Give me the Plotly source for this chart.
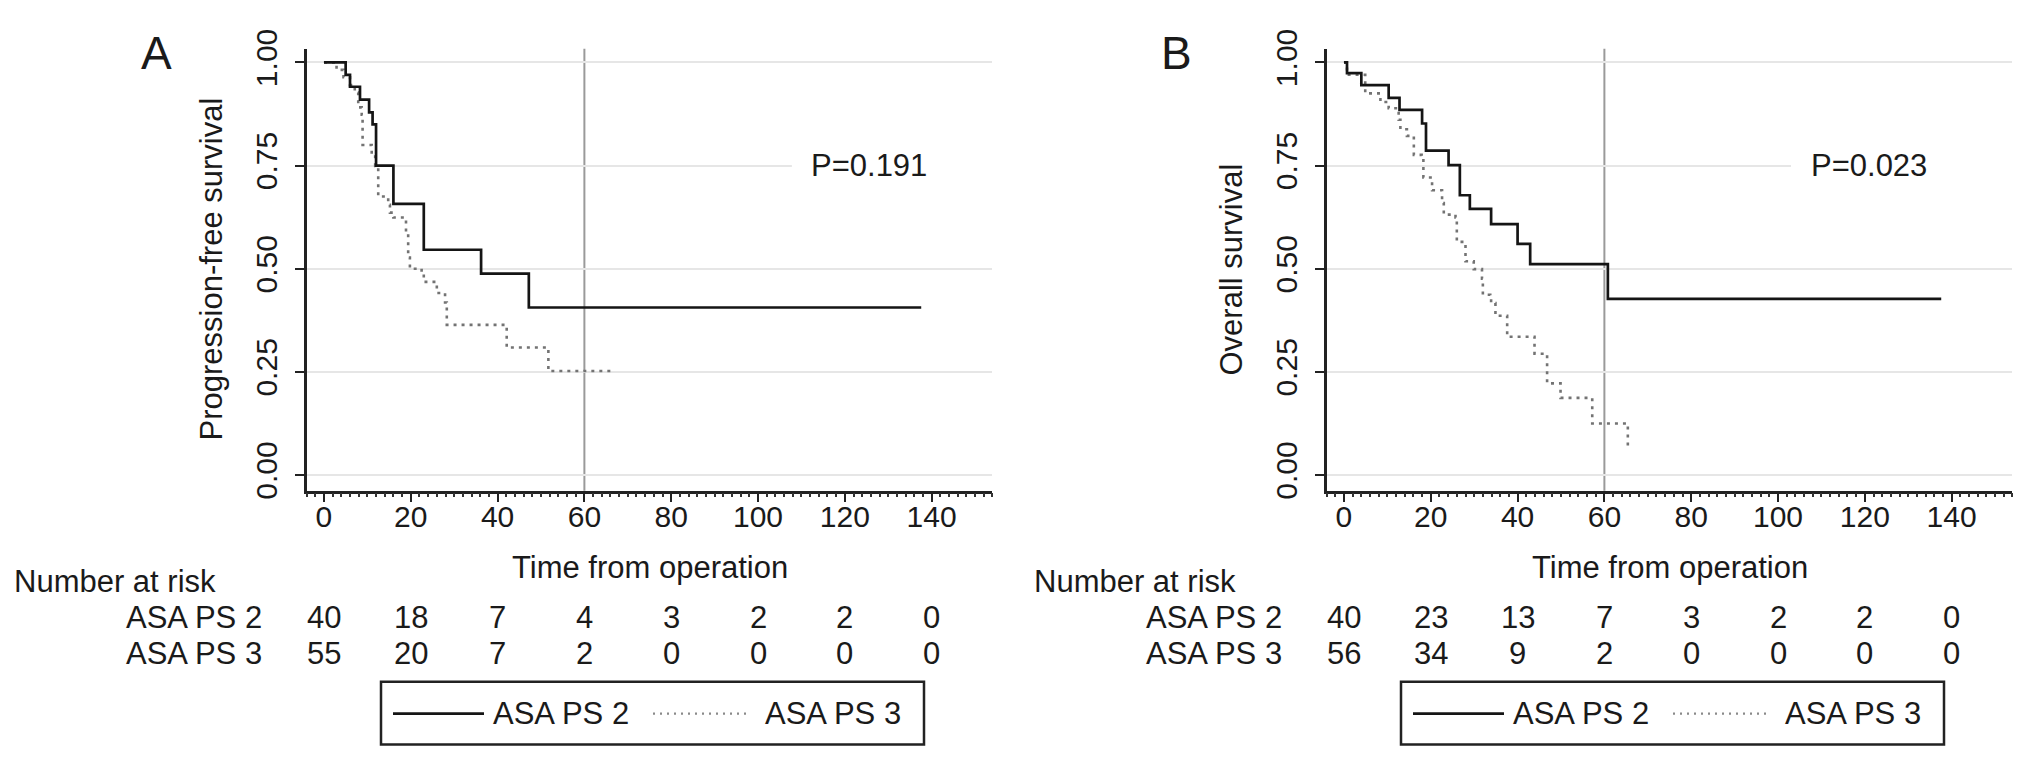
import plotly.graph_objects as go

W, H = 2032, 764

# ---- data ----
# panel A: progression-free survival (Kaplan-Meier steps)
pfs_t_ps2 = [0, 5.0, 6.0, 8.3, 10.4, 11.2, 12.0, 16.0, 23.0, 36.2, 47.2, 137.6]
pfs_s_ps2 = [1.0, 0.970, 0.941, 0.910, 0.879, 0.850, 0.750, 0.657, 0.546, 0.488, 0.406, 0.406]
pfs_t_ps3 = [0, 2.9, 4.5, 6.0, 7.1, 7.9, 8.7, 8.9, 11.0, 11.8, 12.5, 14.8, 15.2, 16.0,
             18.9, 19.4, 19.8, 22.5, 23.0, 26.0, 27.9, 28.3, 42.1, 51.7, 66.3]
pfs_s_ps3 = [1.0, 0.982, 0.964, 0.945, 0.927, 0.891, 0.873, 0.800, 0.782, 0.749, 0.675, 0.655,
             0.636, 0.624, 0.589, 0.527, 0.500, 0.491, 0.468, 0.441, 0.418, 0.364, 0.309, 0.252, 0.252]

# panel B: overall survival
os_t_ps2 = [0, 0.7, 4.0, 10.3, 12.8, 18.0, 18.9, 24.1, 26.7, 29.0, 33.9, 40.0, 42.9, 60.8, 137.6]
os_s_ps2 = [1.0, 0.974, 0.945, 0.914, 0.885, 0.852, 0.786, 0.751, 0.678, 0.645, 0.608, 0.560,
            0.511, 0.427, 0.427]
os_t_ps3 = [0, 0.7, 4.9, 8.4, 10.3, 12.6, 13.0, 14.5, 16.1, 17.9, 18.3, 20.3, 22.6, 23.0, 25.7,
            26.0, 28.0, 29.9, 31.8, 32.0, 33.7, 33.9, 34.9, 37.6, 43.9, 46.8, 49.9, 57.2, 65.4]
os_s_ps3 = [1.0, 0.970, 0.925, 0.904, 0.889, 0.861, 0.838, 0.822, 0.776, 0.768, 0.721, 0.690,
            0.659, 0.631, 0.624, 0.565, 0.518, 0.499, 0.476, 0.437, 0.433, 0.417, 0.386, 0.335,
            0.294, 0.222, 0.187, 0.125, 0.062]

risk_times = [0, 20, 40, 60, 80, 100, 120, 140]
pfs_risk_ps2 = [40, 18, 7, 4, 3, 2, 2, 0]
pfs_risk_ps3 = [55, 20, 7, 2, 0, 0, 0, 0]
os_risk_ps2 = [40, 23, 13, 7, 3, 2, 2, 0]
os_risk_ps3 = [56, 34, 9, 2, 0, 0, 0, 0]

group_names = ["ASA PS 2", "ASA PS 3"]
y_ticks = [0, 0.25, 0.5, 0.75, 1.0]
y_tick_text = ["0.00", "0.25", "0.50", "0.75", "1.00"]
x_ticks = [0, 20, 40, 60, 80, 100, 120, 140]

FONT = "Liberation Sans, Arial, Helvetica, sans-serif"
SOLID = dict(color="#151515", width=2.7)
DOTTED = dict(color="#737373", width=2.6, dash="3px,5px")


def fx(p):
    return p / W


def fy(p):
    return 1 - p / H


def label(text, x, y, xref="paper", yref="paper", size=31, xanchor="center", **kw):
    return dict(text=text, x=x, y=y, xref=xref, yref=yref, showarrow=False,
                xanchor=xanchor, yanchor="middle", font=dict(size=size), **kw)


panels = [
    dict(ax="", label="A", ytitle="Progression-free survival", p="P=0.191", px=125.5, mask0=107.8,
         t2=pfs_t_ps2, s2=pfs_s_ps2, t3=pfs_t_ps3, s3=pfs_s_ps3, r2=pfs_risk_ps2, r3=pfs_risk_ps3,
         off=0),
    dict(ax="2", label="B", ytitle="Overall survival", p="P=0.023", px=121, mask0=103,
         t2=os_t_ps2, s2=os_s_ps2, t3=os_t_ps3, s3=os_s_ps3, r2=os_risk_ps2, r3=os_risk_ps3,
         off=1020),
]

fig = go.Figure()
annotations = []
shapes = []
layout = dict(
    width=W, height=H, margin=dict(l=0, r=0, t=0, b=0),
    paper_bgcolor="white", plot_bgcolor="white", showlegend=False,
    font=dict(family=FONT, size=30, color="#1a1a1a"),
)

for pn in panels:
    ax = pn["ax"]
    off = pn["off"]
    xref = "x" + ax
    yref = "y" + ax
    fig.add_trace(go.Scatter(x=pn["t3"], y=pn["s3"], mode="lines", line=dict(shape="hv", **DOTTED),
                             name=group_names[1], xaxis=xref, yaxis=yref))
    fig.add_trace(go.Scatter(x=pn["t2"], y=pn["s2"], mode="lines", line=dict(shape="hv", **SOLID),
                             name=group_names[0], xaxis=xref, yaxis=yref))

    layout["xaxis" + ax] = dict(
        domain=[fx(306.6 + off), fx(992.4 + off)], range=[-4, 154], anchor=yref,
        tickvals=x_ticks, ticks="outside", ticklen=9, tickwidth=2, tickcolor="#222",
        showline=True, linecolor="#222", linewidth=2.5, showgrid=False, zeroline=False,
        tickfont=dict(size=30), ticklabelstandoff=-11,
        minor=dict(dtick=2, tick0=0, ticks="outside", ticklen=4, tickwidth=1.5,
                   tickcolor="#333", showgrid=False),
    )
    layout["yaxis" + ax] = dict(
        domain=[fy(488.6), fy(29.9)], range=[-0.038, 1.033], anchor=xref,
        tickvals=y_ticks, ticktext=y_tick_text, tickangle=-90,
        ticks="outside", ticklen=9, tickwidth=2, tickcolor="#222",
        showline=True, linecolor="#222", linewidth=2.5,
        showgrid=True, gridcolor="#e6e6e6", gridwidth=2, zeroline=False,
        tickfont=dict(size=30), ticklabelstandoff=6,
    )

    # reference line at 60 months
    shapes.append(dict(type="line", xref=xref, yref=yref + " domain", x0=60, x1=60, y0=0, y1=1,
                       line=dict(color="#9a9a9a", width=2), layer="below"))
    # white box behind the p-value
    shapes.append(dict(type="rect", xref=xref, yref=yref, x0=pn["mask0"], x1=154,
                       y0=0.72, y1=0.78, fillcolor="white", line=dict(width=0), layer="above"))
    annotations.append(label(pn["p"], pn["px"], 0.75, xref=xref, yref=yref))

    annotations.append(label(pn["label"], fx(156 + off), fy(34), size=46))
    annotations.append(label(pn["ytitle"], fx(212 + off), fy(259), textangle=-90))
    annotations.append(label("Time from operation", 75, fy(568), xref=xref))

    # number at risk table
    annotations.append(label("Number at risk", fx(12 + off), fy(583), xanchor="left"))
    for name, row, ypx in [(group_names[0], pn["r2"], 620), (group_names[1], pn["r3"], 658)]:
        annotations.append(label(name, fx(264 + off), fy(ypx), xanchor="right"))
        for t, n in zip(risk_times, row):
            annotations.append(label(str(n), t, fy(ypx), xref=xref))

    # legend box
    shapes.append(dict(type="rect", xref="paper", yref="paper", x0=fx(381 + off), x1=fx(924 + off),
                       y0=fy(752), y1=fy(687), line=dict(color="#222", width=2.5)))
    shapes.append(dict(type="line", xref="paper", yref="paper", x0=fx(393 + off), x1=fx(484 + off),
                       y0=fy(720), y1=fy(720), line=SOLID))
    shapes.append(dict(type="line", xref="paper", yref="paper", x0=fx(653 + off), x1=fx(746 + off),
                       y0=fy(720), y1=fy(720), line=dict(color="#8a8a8a", width=2.2, dash="2px,5px")))
    annotations.append(label(group_names[0], fx(491 + off), fy(720), xanchor="left"))
    annotations.append(label(group_names[1], fx(763 + off), fy(720), xanchor="left"))

layout["annotations"] = annotations
layout["shapes"] = shapes
fig.update_layout(**layout)

fig.write_html("out.html", config={"displayModeBar": False},
               post_script="document.body.style.margin='0px';")
